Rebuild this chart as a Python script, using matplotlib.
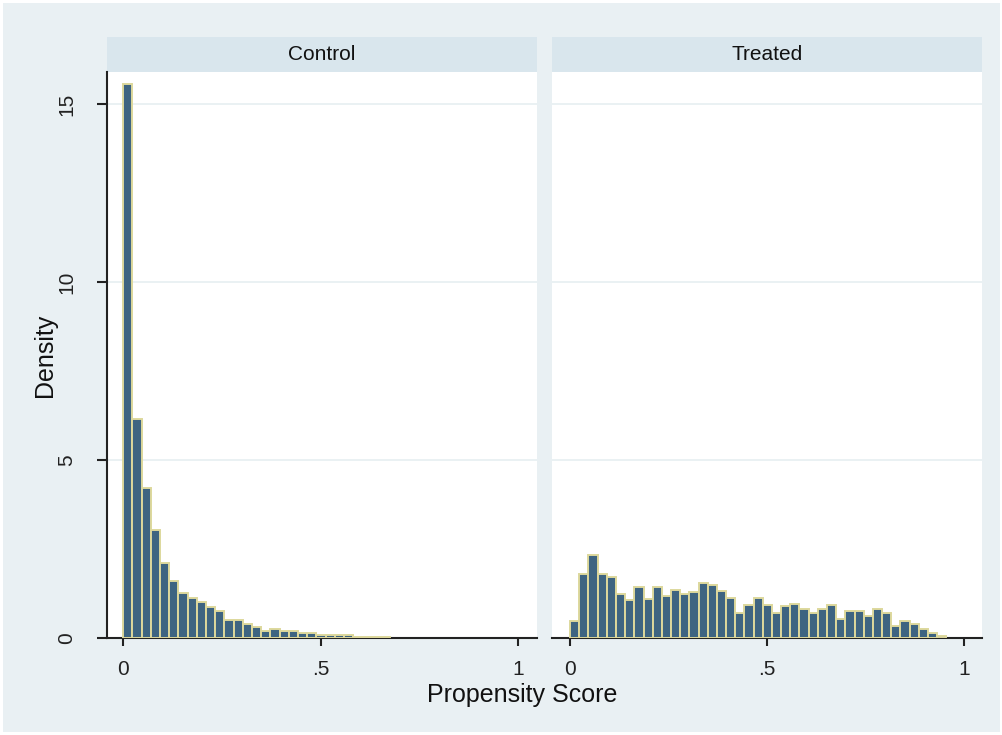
import matplotlib
matplotlib.use("Agg")
import matplotlib.pyplot as plt
from matplotlib.patches import Rectangle

plt.rcParams['font.family'] = ['Liberation Sans', 'DejaVu Sans']

# histogram densities, same bins for both groups (start 0, width ~0.0233)
bin_start = 0.0
bin_width = 0.0233
groups = ["Control", "Treated"]
control = [15.55, 6.16, 4.22, 3.02, 2.11, 1.61, 1.26, 1.12, 1.00, 0.87,
           0.75, 0.51, 0.51, 0.39, 0.31, 0.19, 0.26, 0.19, 0.19, 0.14,
           0.14, 0.075, 0.075, 0.075, 0.075, 0.03, 0.03, 0.03, 0.03]
treated = [0.47, 1.79, 2.34, 1.79, 1.71, 1.25, 1.06, 1.42, 1.10, 1.42,
           1.17, 1.36, 1.25, 1.29, 1.55, 1.48, 1.31, 1.11, 0.70, 0.94,
           1.12, 0.94, 0.70, 0.89, 0.95, 0.82, 0.70, 0.82, 0.94, 0.52,
           0.76, 0.76, 0.63, 0.82, 0.70, 0.33, 0.47, 0.38, 0.26, 0.14, 0.05]
yticks = [0, 5, 10, 15]
xticks = [0, 0.5, 1]
xticklabels = ["0", ".5", "1"]

bg = "#e9f0f3"
strip = "#d9e6ed"
fill = "#3e6481"
edge = "#ddd89c"
grid = "#e6eff1"

W, H = 1003, 735
fig = plt.figure(figsize=(10.03, 7.35), dpi=100)
fig.patch.set_facecolor("white")
fig.add_artist(Rectangle((3 / W, 3 / H), 1 - 6 / W, 1 - 6 / H, transform=fig.transFigure,
                         facecolor=bg, edgecolor="none", zorder=-10))

bottom = (H - 638) / H
height = 566 / H
lefts = [107 / W, 552 / W]
width = 430 / W
xlims = [(-0.041, 1.048), (-0.046, 1.046)]

for i, (name, vals) in enumerate(zip(groups, [control, treated])):
    ax = fig.add_axes([lefts[i], bottom, width, height])
    ax.set_facecolor("white")
    xs = [bin_start + k * bin_width for k in range(len(vals))]
    ax.bar(xs, vals, width=bin_width, align='edge', color=fill, edgecolor=edge,
           linewidth=1.4, zorder=3)
    ax.set_xlim(*xlims[i])
    ax.set_ylim(0, 15.9)
    ax.set_yticks(yticks)
    for y in yticks[1:]:
        ax.axhline(y, color=grid, linewidth=1.2, zorder=1)
    ax.set_xticks(xticks)
    ax.set_xticklabels(xticklabels, fontsize=15)
    ax.tick_params(axis='x', length=6, width=1.5, pad=10, colors="#222222")
    for s in ["top", "right"]:
        ax.spines[s].set_visible(False)
    ax.spines["bottom"].set_linewidth(1.5)
    ax.spines["bottom"].set_color("#222222")
    if i == 0:
        ax.spines["left"].set_linewidth(1.5)
        ax.spines["left"].set_color("#222222")
        ax.set_yticklabels([str(y) for y in yticks], fontsize=15, rotation=90, va='center')
        ax.tick_params(axis='y', length=7, width=1.5, pad=15, colors="#222222")
    else:
        ax.spines["left"].set_visible(False)
        ax.set_yticks([])
    # strip header
    ax.add_patch(Rectangle((0, 1), 1, 35 / 566, transform=ax.transAxes, facecolor=strip,
                           edgecolor="none", clip_on=False))
    ax.text(0.5, 1 + 17.5 / 566, name, transform=ax.transAxes, ha='center', va='center',
            fontsize=15, color="#111111")

fig.text(522 / W, (H - 695) / H, "Propensity Score", ha='center', va='center', fontsize=18,
         color="#111111")
fig.text(45 / W, (H - 355) / H, "Density", ha='center', va='center', rotation=90, fontsize=18,
         color="#111111")

fig.savefig("out.png", dpi=100, facecolor=fig.get_facecolor())
